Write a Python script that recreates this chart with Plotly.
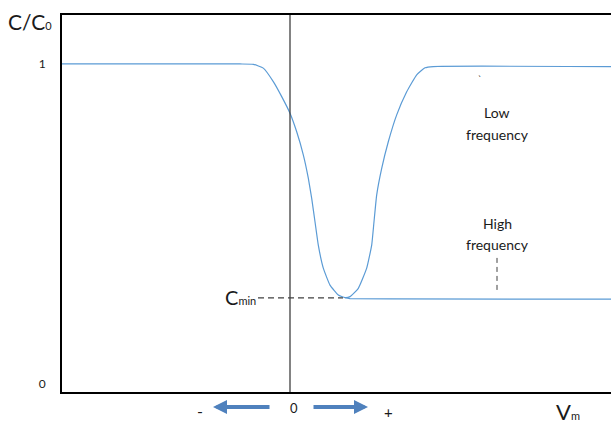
import plotly.graph_objects as go

# ---- data (V in arbitrary units, C/C0 normalised) ----
v_low = [-2.28, -0.50, -0.367, -0.267, -0.167, -0.083, 0.000, 0.067, 0.133, 0.183,
         0.217, 0.250, 0.283, 0.333, 0.400, 0.483, 0.550, 0.600, 0.683, 0.767,
         0.817, 0.840, 0.867, 0.917, 0.983, 1.067, 1.167, 1.267, 1.350, 1.433, 3.21]
c_low = [1.000, 1.000, 0.999, 0.987, 0.945, 0.898, 0.846, 0.788, 0.716, 0.643,
         0.580, 0.507, 0.434, 0.362, 0.309, 0.278, 0.270, 0.273, 0.299, 0.362,
         0.434, 0.507, 0.591, 0.674, 0.757, 0.841, 0.913, 0.966, 0.988, 0.992, 0.992]
v_high = [0.55, 0.60, 1.00, 3.21]
c_high = [0.270, 0.267, 0.266, 0.265]
c_min = 0.269
cmin_v = [-0.32, 0.53]
hf_marker_v = [2.07, 2.07]
hf_marker_c = [0.394, 0.294]
ytick_vals = [0, 1]
ytick_text = ["0", "1"]
x_range = [-2.28, 3.21]
y_range = [-0.025, 1.153]

FONT = "Lato"
CURVE = "#5B9BD5"
DARK = "#404040"
ARROW = "#4F81BD"

fig = go.Figure()
fig.add_trace(go.Scatter(x=v_low, y=c_low, mode="lines",
                         line=dict(color=CURVE, width=1.2, shape="spline", smoothing=0.4),
                         hoverinfo="skip"))
fig.add_trace(go.Scatter(x=v_high, y=c_high, mode="lines",
                         line=dict(color=CURVE, width=1.2), hoverinfo="skip"))
# zero voltage line
fig.add_trace(go.Scatter(x=[0, 0], y=y_range, mode="lines",
                         line=dict(color=DARK, width=1.3), hoverinfo="skip"))
# Cmin dashed line
fig.add_trace(go.Scatter(x=cmin_v, y=[c_min, c_min], mode="lines",
                         line=dict(color=DARK, width=1.2, dash="6px,4px"), hoverinfo="skip"))
# high frequency dashed marker
fig.add_trace(go.Scatter(x=hf_marker_v, y=hf_marker_c, mode="lines",
                         line=dict(color=DARK, width=1, dash="5px,4px"), hoverinfo="skip"))

ann = []
txt = dict(color="#1a1a1a", family=FONT)


def small(s, px):
    return f"<span style='font-size:{px}px'>{s}</span>"


def label(x, y, text, size, yref="y", **kw):
    ann.append(dict(x=x, y=y, yref=yref, text=text, showarrow=False,
                    xanchor="center", yanchor="middle", font=dict(size=size, **txt), **kw))


ann.append(dict(xref="paper", yref="paper", x=-0.058, y=0.983, xanchor="center",
                yanchor="middle", text="C/C" + small("0", 11), showarrow=False,
                font=dict(size=21, **txt)))
label(-0.50, c_min + 0.004, "C" + small("min", 11), 20)
label(2.07, (384 - 113) / 320, "Low", 14)
label(2.07, (384 - 135) / 320, "frequency", 14)
label(2.07, (384 - 224) / 320, "High", 14)
label(2.07, (384 - 245) / 320, "frequency", 14)
label(1.90, (384 - 80) / 320, "`", 9)
# bottom labels
label(-0.90, -0.048, "-", 16, yref="paper")
label(0.04, -0.043, "0", 13, yref="paper")
label(0.98, -0.054, "+", 15, yref="paper")
label(2.78, -0.053, "V" + small("m", 11), 22, yref="paper")
# arrows
ann.append(dict(x=-0.77, yref="paper", y=-0.040, ax=58, ay=0, text="", showarrow=True,
                arrowhead=2, arrowsize=0.7, arrowwidth=4, arrowcolor=ARROW))
ann.append(dict(x=0.78, yref="paper", y=-0.040, ax=-56, ay=0, text="", showarrow=True,
                arrowhead=2, arrowsize=0.7, arrowwidth=4, arrowcolor=ARROW))

fig.update_layout(
    width=611, height=425,
    margin=dict(l=62, r=0, t=15, b=33),
    paper_bgcolor="white", plot_bgcolor="white",
    showlegend=False,
    font=dict(family=FONT, color="#1a1a1a"),
    annotations=ann,
    xaxis=dict(range=x_range, showgrid=False, zeroline=False, showticklabels=False,
               ticks="", showline=True, mirror=True, linecolor="black", linewidth=2),
    yaxis=dict(range=y_range, showgrid=False, zeroline=False, tickvals=ytick_vals,
               ticktext=ytick_text, ticks="", ticklabelstandoff=12,
               tickfont=dict(size=12, color="#1a1a1a", family=FONT),
               showline=True, mirror=False, linecolor="black", linewidth=2),
)

fig.write_html("out.html")
